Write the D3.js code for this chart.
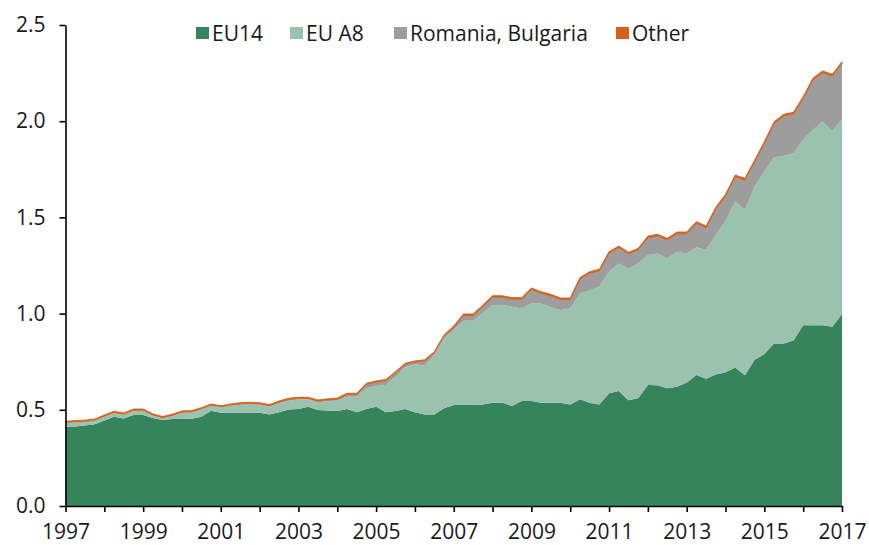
<!DOCTYPE html>
<html>
<head>
<meta charset="utf-8">
<script src="https://cdn.jsdelivr.net/npm/d3@7"></script>
<style>
  body { margin: 0; background: #fff; }
  svg text { font-family: "Open Sans", "DejaVu Sans", sans-serif; fill: #1a1a1a; }
  .axis path, .axis line { stroke: #000; stroke-width: 1.6; }
</style>
</head>
<body>
<div id="main"></div>
<script>
// quarterly values, 1997 Q1 .. 2017 Q1 (millions)
const eu14 = [
  0.412, 0.413, 0.418, 0.425, 0.445, 0.464, 0.455, 0.473, 0.473, 0.458,
  0.447, 0.452, 0.452, 0.453, 0.464, 0.495, 0.485, 0.485, 0.485, 0.485,
  0.485, 0.476, 0.487, 0.502, 0.504, 0.516, 0.499, 0.497, 0.494, 0.504,
  0.487, 0.504, 0.516, 0.487, 0.494, 0.504, 0.487, 0.476, 0.475, 0.508,
  0.525, 0.525, 0.525, 0.527, 0.537, 0.537, 0.520, 0.546, 0.546, 0.537,
  0.537, 0.537, 0.527, 0.555, 0.537, 0.528, 0.586, 0.598, 0.549, 0.560,
  0.629, 0.628, 0.612, 0.620, 0.642, 0.681, 0.662, 0.684, 0.695, 0.720,
  0.680, 0.760, 0.790, 0.845, 0.845, 0.860, 0.940, 0.940, 0.940, 0.932,
  0.998
];
const euA8 = [
  0.023, 0.025, 0.022, 0.022, 0.019, 0.018, 0.022, 0.022, 0.022, 0.012,
  0.009, 0.015, 0.033, 0.037, 0.038, 0.030, 0.031, 0.040, 0.040, 0.045,
  0.045, 0.040, 0.047, 0.045, 0.051, 0.039, 0.040, 0.047, 0.053, 0.064,
  0.081, 0.108, 0.108, 0.142, 0.178, 0.217, 0.251, 0.253, 0.310, 0.364,
  0.390, 0.438, 0.438, 0.478, 0.508, 0.508, 0.516, 0.481, 0.507, 0.516,
  0.496, 0.482, 0.500, 0.550, 0.583, 0.612, 0.632, 0.663, 0.686, 0.701,
  0.676, 0.685, 0.675, 0.702, 0.671, 0.664, 0.668, 0.726, 0.785, 0.862,
  0.858, 0.900, 0.947, 0.967, 0.976, 0.973, 0.966, 1.014, 1.057, 1.019,
  1.008
];
const romaniaBulgaria = [
  0.000, 0.000, 0.000, 0.000, 0.003, 0.004, 0.001, 0.003, 0.003, 0.003,
  0.003, 0.004, 0.003, 0.000, 0.003, 0.000, 0.000, 0.000, 0.006, 0.003,
  0.001, 0.005, 0.006, 0.007, 0.004, 0.004, 0.006, 0.007, 0.008, 0.012,
  0.012, 0.020, 0.020, 0.023, 0.020, 0.015, 0.010, 0.025, 0.011, 0.011,
  0.013, 0.027, 0.027, 0.032, 0.040, 0.040, 0.039, 0.048, 0.072, 0.053,
  0.059, 0.054, 0.046, 0.074, 0.090, 0.082, 0.096, 0.082, 0.076, 0.070,
  0.089, 0.090, 0.095, 0.093, 0.102, 0.124, 0.116, 0.134, 0.131, 0.129,
  0.156, 0.129, 0.147, 0.176, 0.206, 0.204, 0.212, 0.260, 0.255, 0.284,
  0.294
];
const other = [
  0.005, 0.006, 0.006, 0.005, 0.006, 0.006, 0.006, 0.006, 0.006, 0.006,
  0.006, 0.006, 0.006, 0.006, 0.006, 0.005, 0.005, 0.005, 0.006, 0.006,
  0.006, 0.006, 0.006, 0.006, 0.006, 0.006, 0.006, 0.006, 0.006, 0.006,
  0.006, 0.006, 0.006, 0.006, 0.006, 0.006, 0.006, 0.006, 0.006, 0.006,
  0.008, 0.008, 0.008, 0.008, 0.008, 0.008, 0.008, 0.008, 0.008, 0.008,
  0.008, 0.008, 0.008, 0.008, 0.008, 0.008, 0.008, 0.008, 0.008, 0.008,
  0.009, 0.009, 0.009, 0.009, 0.009, 0.009, 0.009, 0.009, 0.009, 0.009,
  0.009, 0.009, 0.009, 0.009, 0.009, 0.009, 0.009, 0.009, 0.009, 0.009,
  0.009
];
const seriesNames = ['EU14', 'EU A8', 'Romania, Bulgaria', 'Other'];
const seriesColors = ['#36845b', '#9bc2ae', '#9d9d9d', '#d5611b'];
const yTicks = [0, 0.5, 1.0, 1.5, 2.0, 2.5];
const xTickLabels = [1997, 1999, 2001, 2003, 2005, 2007, 2009, 2011, 2013, 2015, 2017];
const firstYear = 1997;

!(function () {
  'use strict';

  let
    svg = undefined,
    xScale = undefined,
    yScale = undefined,
    canvas = {
      context: '#main',
      width: 869,
      height: 545,
      padding: { top: 25, right: 27, bottom: 39, left: 65.5 }
    };

  // rows of the stack, one per quarter
  const rows = eu14.map(function (v, i) {
    return {
      t: firstYear + i / 4,
      'EU14': v,
      'EU A8': euA8[i],
      'Romania, Bulgaria': romaniaBulgaria[i],
      'Other': other[i]
    };
  });

  function setCanvas() {
    svg = d3.select(canvas.context)
      .append('svg')
      .attr('width', canvas.width)
      .attr('height', canvas.height);
  }

  function setScales() {
    xScale = d3.scaleLinear()
      .domain([firstYear, xTickLabels[xTickLabels.length - 1]])
      .range([canvas.padding.left, canvas.width - canvas.padding.right]);
    yScale = d3.scaleLinear()
      .domain([0, 2.5])
      .range([canvas.height - canvas.padding.bottom, canvas.padding.top]);
  }

  function drawAreas() {
    const stack = d3.stack().keys(seriesNames)(rows);
    const area = d3.area()
      .x(function (d) { return xScale(d.data.t); })
      .y0(function (d) { return yScale(d[0]); })
      .y1(function (d) { return yScale(d[1]); });

    svg.append('g')
      .attr('class', 'areas')
      .selectAll('path')
      .data(stack)
      .enter()
      .append('path')
      .attr('fill', function (d, i) { return seriesColors[i]; })
      .attr('stroke', function (d, i) { return seriesColors[i]; })
      .attr('stroke-width', function (d, i) { return i === 3 ? 0.9 : 0; })
      .attr('d', area);
  }

  function drawAxes() {
    const years = d3.range(firstYear, xTickLabels[xTickLabels.length - 1] + 1);

    const gx = svg.append('g')
      .attr('class', 'axis')
      .attr('transform', 'translate(0,' + yScale(0) + ')')
      .call(d3.axisBottom(xScale)
        .tickValues(years)
        .tickSize(6)
        .tickSizeOuter(0)
        .tickPadding(12)
        .tickFormat(function (d) { return xTickLabels.indexOf(d) >= 0 ? d : ''; }));
    gx.selectAll('text').style('font-size', '21px');

    const gy = svg.append('g')
      .attr('class', 'axis')
      .attr('transform', 'translate(' + xScale(firstYear) + ',0)')
      .call(d3.axisLeft(yScale)
        .tickValues(yTicks)
        .tickSize(6)
        .tickSizeOuter(0)
        .tickPadding(14)
        .tickFormat(d3.format('.1f')));
    gy.selectAll('text').style('font-size', '21px');

    svg.selectAll('.axis text').attr('fill', '#1a1a1a');
  }

  function drawLegend() {
    const xs = [196, 290, 394, 616];
    const legend = svg.append('g').attr('class', 'legend');
    seriesNames.forEach(function (name, i) {
      legend.append('rect')
        .attr('x', xs[i])
        .attr('y', 27)
        .attr('width', 13)
        .attr('height', 12)
        .attr('fill', seriesColors[i]);
      legend.append('text')
        .attr('x', xs[i] + 16)
        .attr('y', 40.5)
        .style('font-size', '21px')
        .text(name);
    });
  }

  setCanvas();
  setScales();
  drawAreas();
  drawAxes();
  drawLegend();
}());
</script>
</body>
</html>
